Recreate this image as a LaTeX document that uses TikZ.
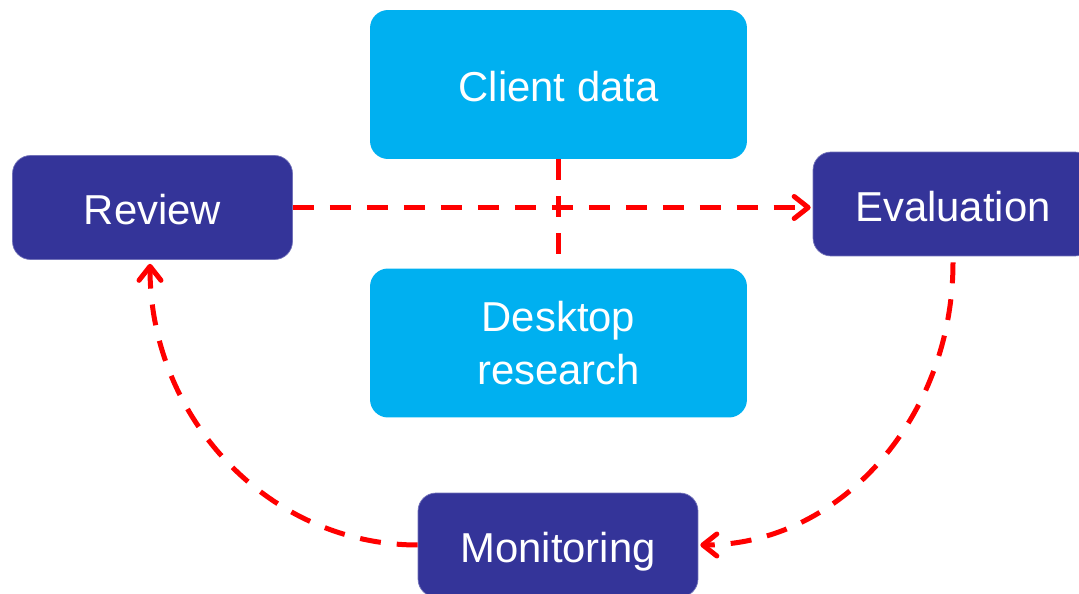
\documentclass[tikz,border=0pt]{standalone}
\usepackage{fontspec}
\setmainfont{Liberation Sans}
\usetikzlibrary{arrows.meta}
\definecolor{lightbox}{HTML}{00B0F0}
\definecolor{darkbox}{HTML}{343499}
\definecolor{flowred}{HTML}{FF0000}
\tikzset{
  boxbase/.style={rounded corners=0.36cm, inner sep=0pt, align=center, text=white,
    font=\fontsize{23.8}{30}\selectfont},
  oneline/.style={text height=0.7cm, text depth=0cm},
  lbox/.style={boxbase, fill=lightbox, minimum width=7.54cm, minimum height=2.98cm},
  dbox/.style={boxbase, oneline, fill=darkbox, draw=darkbox!70!white, line width=0.4pt, minimum width=5.6cm, minimum height=2.08cm},
  flow/.style={draw=flowred, line width=0.1cm, dash pattern=on 0.42cm off 0.32cm},
  tip/.style={-{Straight Barb[length=0.28cm, width=0.44cm, line cap=round, line join=round]}}
}
\begin{document}
\begin{tikzpicture}[x=0.02cm, y=-0.02cm]
\useasboundingbox (0,0) rectangle (1079,594);
\node[lbox, oneline] (cd) at (558.5,84.5) {Client data};
\node[lbox] (dr) at (558.5,343) {Desktop\\research};
\node[dbox] (rev) at (152.5,207.5) {Review};
\node[dbox] (eva) at (953,204) {Evaluation};
\node[dbox] (mon) at (558,545) {Monitoring};
\draw[flow] (cd.south) -- ([yshift=0.22cm]dr.north);
\draw[flow, tip] (rev.east) -- ([xshift=-0.04cm]rev.east -| eva.west);
\draw[flow, tip] ([yshift=-0.12cm]eva.south) .. controls +(0,156) and +(139,0) .. ([xshift=0.04cm]mon.east);
\draw[flow, tip] (mon.west) .. controls +(-147,0) and +(0,156) .. ([xshift=-0.05cm, yshift=-0.08cm]rev.south);
\end{tikzpicture}
\end{document}
